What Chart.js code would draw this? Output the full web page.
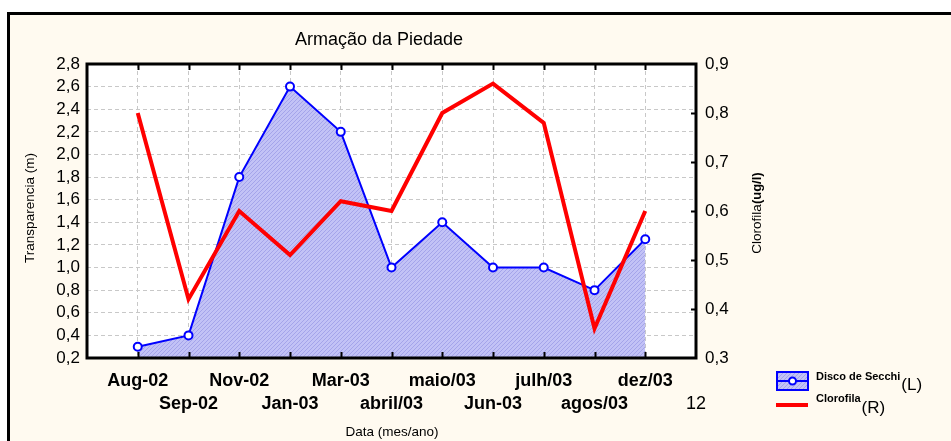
<!DOCTYPE html>
<html>
<head>
<meta charset="utf-8">
<script src="https://cdn.jsdelivr.net/npm/chart.js@4/dist/chart.umd.min.js"></script>
<style>
    body { margin: 0; background: #ffffff; }
    #chart { display: block; }
</style>
</head>
<body>
<canvas id="chart" width="951" height="441"></canvas>
<script>
// Data
var tickLabels = ["Aug-02", "Sep-02", "Nov-02", "Jan-03", "Mar-03", "abril/03", "maio/03", "Jun-03", "julh/03", "agos/03", "dez/03", "12"];
var secchi = [0.3, 0.4, 1.8, 2.6, 2.2, 1.0, 1.4, 1.0, 1.0, 0.8, 1.25];
var clorofila = [0.8, 0.42, 0.6, 0.51, 0.62, 0.6, 0.8, 0.86, 0.78, 0.36, 0.6];

var FONT = "Arial, 'Liberation Sans', sans-serif";

// points sit at positions 1..11 on a 0..12 axis
function toPoints(values) {
    return values.map(function (v, i) {
        return {x: i + 1, y: v};
    });
}

function decimal(v) {
    return v.toFixed(1).replace(".", ",");
}

// hatched fill for the Secchi area
function makeHatch() {
    var c = document.createElement("canvas");
    c.width = 4;
    c.height = 4;
    var g = c.getContext("2d");
    g.fillStyle = "#c2c2f6";
    g.fillRect(0, 0, 4, 4);
    g.strokeStyle = "#a4a4ea";
    g.lineWidth = 1;
    g.beginPath();
    g.moveTo(0, 4);
    g.lineTo(4, 0);
    g.stroke();
    return g.createPattern(c, "repeat");
}

var backgroundPlugin = {
    id: "frame",
    beforeDraw: function (chart) {
        var ctx = chart.ctx;
        var a = chart.chartArea;
        ctx.save();
        ctx.fillStyle = "#ffffff";
        ctx.fillRect(0, 0, chart.width, chart.height);
        ctx.fillStyle = "#fffaf0";
        ctx.fillRect(8, 13, chart.width - 8, chart.height - 13);
        // outer frame lines (top and left)
        ctx.strokeStyle = "#000000";
        ctx.lineWidth = 3;
        ctx.beginPath();
        ctx.moveTo(chart.width, 13.5);
        ctx.lineTo(8.5, 13.5);
        ctx.lineTo(8.5, chart.height);
        ctx.stroke();
        // plot area
        ctx.fillStyle = "#ffffff";
        ctx.fillRect(a.left, a.top, a.right - a.left, a.bottom - a.top);
        ctx.restore();
    },
    afterDraw: function (chart) {
        var ctx = chart.ctx;
        var a = chart.chartArea;
        var x = chart.scales.x;
        var y2 = chart.scales.y2;
        ctx.save();

        // inward tick marks
        ctx.strokeStyle = "#000000";
        ctx.lineWidth = 2;
        ctx.beginPath();
        for (var i = 1; i <= 11; i++) {
            var px = Math.round(x.getPixelForValue(i)) + 0.5;
            ctx.moveTo(px, a.bottom);
            ctx.lineTo(px, a.bottom - 6);
            ctx.moveTo(px, a.top);
            ctx.lineTo(px, a.top + 6);
        }
        for (var v = 0.4; v < 0.85; v += 0.1) {
            var py = Math.round(y2.getPixelForValue(v)) + 0.5;
            ctx.moveTo(a.right, py);
            ctx.lineTo(a.right - 5, py);
        }
        ctx.stroke();

        // plot frame
        ctx.lineWidth = 3;
        ctx.strokeRect(a.left, a.top, a.right - a.left, a.bottom - a.top);

        // title and axis titles
        ctx.fillStyle = "#000000";
        ctx.textAlign = "center";
        ctx.textBaseline = "middle";
        ctx.font = "18px " + FONT;
        ctx.fillText("Armação da Piedade", 379, 40);

        ctx.font = "13.5px " + FONT;
        ctx.fillText("Data (mes/ano)", 392, 432);

        ctx.save();
        ctx.translate(30, 208);
        ctx.rotate(-Math.PI / 2);
        ctx.fillText("Transparencia (m)", 0, 0);
        ctx.restore();

        // right axis title, second part bold
        ctx.save();
        ctx.translate(757, 213);
        ctx.rotate(-Math.PI / 2);
        ctx.font = "13.5px " + FONT;
        var t1 = "Clorofila";
        var w1 = ctx.measureText(t1).width;
        ctx.font = "bold 13px " + FONT;
        var t2 = "(ug/l)";
        var w2 = ctx.measureText(t2).width;
        var start = -(w1 + w2) / 2;
        ctx.textAlign = "left";
        ctx.font = "13.5px " + FONT;
        ctx.fillText(t1, start, 0);
        ctx.font = "bold 13px " + FONT;
        ctx.fillText(t2, start + w1, 0);
        ctx.restore();

        // legend
        ctx.fillStyle = hatch;
        ctx.fillRect(777, 372, 31, 18);
        ctx.strokeStyle = "#0000ff";
        ctx.lineWidth = 2;
        ctx.strokeRect(777, 372, 31, 18);
        ctx.beginPath();
        ctx.moveTo(777, 381);
        ctx.lineTo(808, 381);
        ctx.stroke();
        ctx.beginPath();
        ctx.arc(792.5, 381, 3.5, 0, Math.PI * 2);
        ctx.fillStyle = "#ffffff";
        ctx.fill();
        ctx.stroke();

        ctx.strokeStyle = "#ff0000";
        ctx.lineWidth = 4;
        ctx.beginPath();
        ctx.moveTo(776, 405);
        ctx.lineTo(808, 405);
        ctx.stroke();

        ctx.fillStyle = "#000000";
        ctx.textAlign = "left";
        ctx.textBaseline = "alphabetic";
        ctx.font = "bold 11px " + FONT;
        ctx.fillText("Disco de Secchi", 816, 380);
        var dw = ctx.measureText("Disco de Secchi").width;
        ctx.fillText("Clorofila", 816, 402);
        var cw = ctx.measureText("Clorofila").width;
        ctx.font = "17px " + FONT;
        ctx.fillText("(L)", 817 + dw, 390);
        ctx.fillText("(R)", 817 + cw, 413);

        ctx.restore();
    }
};

var hatch = makeHatch();

var ctx = document.getElementById("chart").getContext("2d");
var chart = new Chart(ctx, {
    type: "line",
    data: {
        datasets: [
            {
                label: "Disco de Secchi",
                data: toPoints(secchi),
                yAxisID: "y",
                borderColor: "#0000ff",
                borderWidth: 2,
                backgroundColor: hatch,
                fill: "start",
                tension: 0,
                pointRadius: 4,
                pointBorderWidth: 2,
                pointBackgroundColor: "#ffffff",
                pointBorderColor: "#0000ff",
                order: 2
            },
            {
                label: "Clorofila",
                data: toPoints(clorofila),
                yAxisID: "y2",
                borderColor: "#ff0000",
                borderWidth: 4,
                fill: false,
                tension: 0,
                pointRadius: 0,
                order: 1
            }
        ]
    },
    options: {
        responsive: false,
        animation: false,
        events: [],
        layout: {padding: {top: 64, left: 0, right: 0, bottom: 0}},
        plugins: {
            legend: {display: false},
            title: {display: false},
            tooltip: {enabled: false}
        },
        scales: {
            x: {
                type: "linear",
                min: 0,
                max: 12,
                afterFit: function (scale) {
                    scale.height = 83;
                },
                grid: {color: "#c8c8c8", lineWidth: 1, drawTicks: false},
                border: {display: false, dash: [4, 3]},
                ticks: {
                    stepSize: 1,
                    autoSkip: false,
                    maxRotation: 0,
                    padding: 12,
                    color: "#000000",
                    font: function (c) {
                        var bold = c.tick && c.tick.value !== 12;
                        return {family: FONT, size: 18, weight: bold ? "bold" : "normal", lineHeight: 1.25};
                    },
                    callback: function (value) {
                        var lab = tickLabels[value - 1];
                        if (!lab) {
                            return "";
                        }
                        return value % 2 === 1 ? [lab, ""] : ["", lab];
                    }
                }
            },
            y: {
                position: "left",
                min: 0.2,
                max: 2.8,
                afterFit: function (scale) {
                    scale.width = 87;
                },
                grid: {color: "#c8c8c8", lineWidth: 1, drawTicks: false},
                border: {display: false, dash: [4, 3]},
                ticks: {
                    stepSize: 0.2,
                    autoSkip: false,
                    padding: 7,
                    color: "#000000",
                    font: {family: FONT, size: 17},
                    callback: function (value) {
                        return decimal(value);
                    }
                }
            },
            y2: {
                position: "right",
                min: 0.3,
                max: 0.9,
                afterFit: function (scale) {
                    scale.width = 255;
                },
                grid: {display: false, drawTicks: false},
                border: {display: false},
                ticks: {
                    stepSize: 0.1,
                    autoSkip: false,
                    padding: 9,
                    color: "#000000",
                    font: {family: FONT, size: 17},
                    callback: function (value) {
                        return decimal(value);
                    }
                }
            }
        }
    },
    plugins: [backgroundPlugin]
});
</script>
</body>
</html>
